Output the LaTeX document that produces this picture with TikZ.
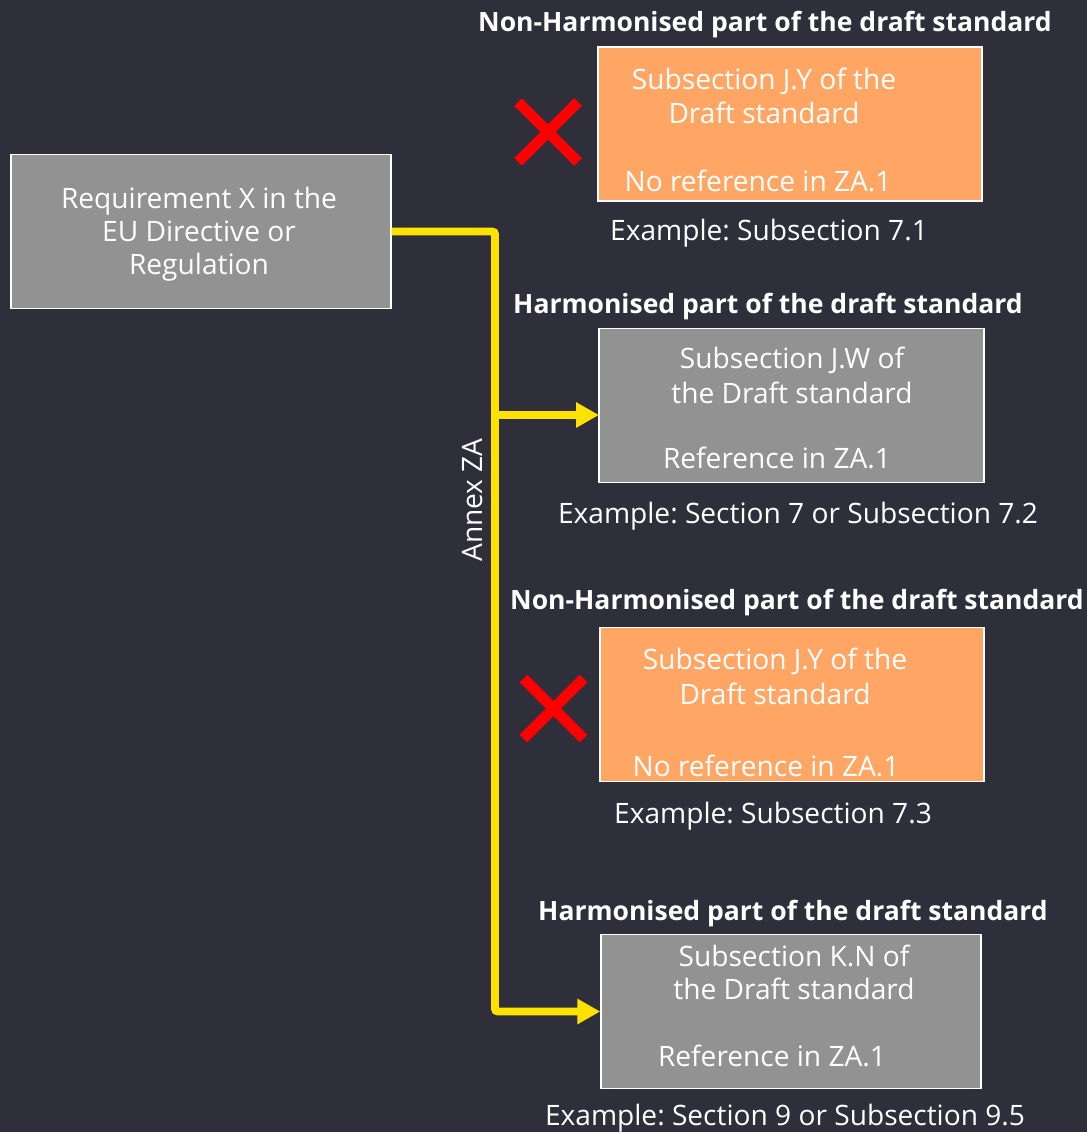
\documentclass[tikz,border=0pt]{standalone}
\usepackage{fontspec}
\setmainfont{Open Sans}
\frenchspacing
\usetikzlibrary{arrows.meta}
\definecolor{bg}{RGB}{46,47,58}
\definecolor{boxgray}{RGB}{146,146,146}
\definecolor{boxorange}{RGB}{255,166,101}
\definecolor{annexyellow}{RGB}{255,226,0}
\definecolor{crossred}{RGB}{255,0,0}
\begin{document}
\begin{tikzpicture}[x=0.02cm, y=-0.02cm, font=\fontsize{16}{18.7}\selectfont, text=white,
  box/.style={draw=white, line width=0.85pt, inner sep=0pt, minimum width=7.68cm, minimum height=3.08cm},
  graybox/.style={box, fill=boxgray},
  orangebox/.style={box, fill=boxorange},
  head/.style={font=\fontsize{15.1}{18.7}\selectfont\bfseries},
  conn/.style={draw=annexyellow, line width=4.4pt, rounded corners=1.5pt},
  tip/.style={-{Triangle[length=13pt, width=13.6pt]}},
  cross/.style={draw=crossred, line width=6.2pt}]
				\fill[bg] (0,0) rectangle (1087,1132);
				\useasboundingbox (0,0) rectangle (1087,1132);
				% requirement
				\node[graybox, minimum width=7.6cm] (req) at (201,231.5) {};
				\node[align=center] (reqtext) at (199,234) {Requirement X in the\\EU Directive or\\Regulation};
				% boxes of the draft standard
				\node[orangebox] (sub1) at (790,124) {};
				\node[graybox, minimum width=7.7cm] (sub2) at (791.5,405.5) {};
				\node[orangebox] (sub3) at (792,704.5) {};
				\node[graybox, minimum width=7.6cm] (sub4) at (791,1011.5) {};
				\node[head] (head1) at (765,25) {Non-Harmonised part of the draft standard};
				\node[head] (head2) at (768,307) {Harmonised part of the draft standard};
				\node[head] (head3) at (797,603) {Non-Harmonised part of the draft standard};
				\node[head] (head4) at (793,914) {Harmonised part of the draft standard};
				\node (t1a) at (764,81) {Subsection J.Y of the};
				\node (t1b) at (764,113) {Draft standard};
				\node (t1c) at (758,181) {No reference in ZA.1};
				\node (t2a) at (792,360) {Subsection J.W of};
				\node (t2b) at (792,393) {the Draft standard};
				\node (t2c) at (777,458) {Reference in ZA.1};
				\node (t3a) at (775,661) {Subsection J.Y of the};
				\node (t3b) at (775,694) {Draft standard};
				\node (t3c) at (766,766) {No reference in ZA.1};
				\node (t4a) at (794,956) {Subsection K.N of};
				\node (t4b) at (794,989) {the Draft standard};
				\node (t4c) at (772,1056) {Reference in ZA.1};
				\node (ex1) at (769,233) {Example: Subsection 7.1};
				\node (ex2) at (798,516) {Example: Section 7 or Subsection 7.2};
				\node (ex3) at (773,816) {Example: Subsection 7.3};
				\node (ex4) at (785,1118) {Example: Section 9 or Subsection 9.5};
				% annex ZA connector
				\coordinate (trunk) at (495,231.5);
				\coordinate (in2) at (599,415);
				\draw[conn, tip] (req.east) -- (trunk) |- (sub4.west);
				\draw[conn, tip] (trunk |- in2) -- (in2);
				\node[rotate=90] (annex) at (473,500) {Annex ZA};
				% crosses
				\draw[cross] (518,102) -- (578,162) (518,162) -- (578,102);
				\draw[cross] (523.5,678.5) -- (583.5,738.5) (523.5,738.5) -- (583.5,678.5);
\end{tikzpicture}
\end{document}
